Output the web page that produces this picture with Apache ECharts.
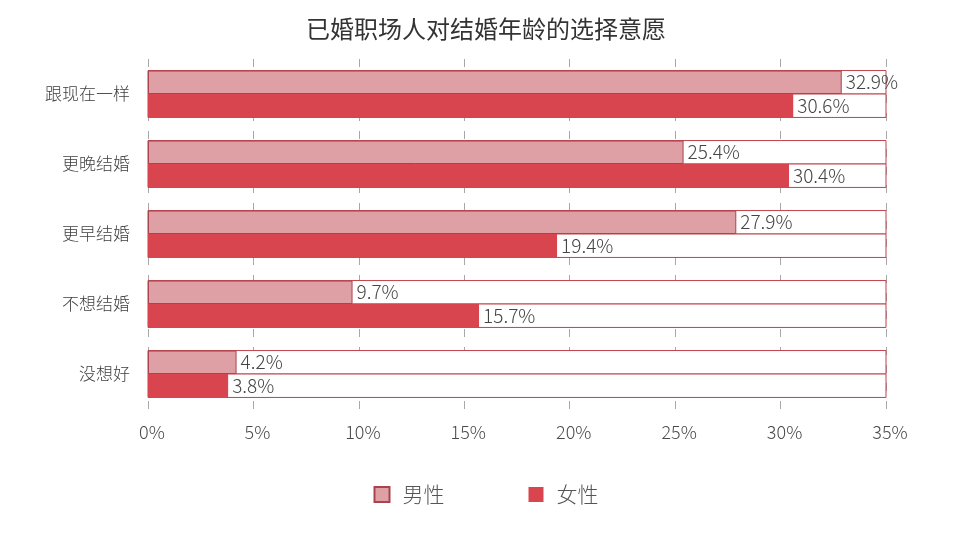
<!DOCTYPE html>
<html>
<head>
<meta charset="utf-8">
<script src="https://cdn.jsdelivr.net/npm/echarts@6/dist/echarts.min.js"></script>
<style>
    html, body {margin: 0; padding: 0; background: #fff;}
    #main {width: 972px; height: 539px;}
</style>
</head>
<body>
<div id="main"></div>
<script>
    // 类别与数据
    var categories = ['跟现在一样', '更晚结婚', '更早结婚', '不想结婚', '没想好'];
    var maleData = [32.9, 25.4, 27.9, 9.7, 4.2];
    var femaleData = [30.6, 30.4, 19.4, 15.7, 3.8];
    var xTicks = [0, 5, 10, 15, 20, 25, 30, 35];

    var font = '"Noto Sans CJK SC", "Noto Sans", sans-serif';

    var myChart = echarts.init(document.getElementById('main'));
    var option = {
        backgroundColor: '#fff',
        textStyle: {fontFamily: font},
        title: {
            text: '已婚职场人对结婚年龄的选择意愿',
            left: 'center',
            top: 12,
            textStyle: {fontSize: 24, fontWeight: 'normal', color: '#333', fontFamily: font}
        },
        legend: {
            data: ['男性', '女性'],
            top: 479,
            left: 'center',
            icon: 'rect',
            itemWidth: 15,
            itemHeight: 15,
            itemGap: 84,
            textStyle: {fontSize: 21, color: '#555', fontWeight: 300, fontFamily: font, padding: [0, 0, 0, 8]}
        },
        grid: {
            left: 148,
            right: 86,
            top: 59,
            height: 350
        },
        xAxis: {
            type: 'value',
            min: xTicks[0],
            max: xTicks[xTicks.length - 1],
            interval: 5,
            axisLine: {show: false},
            axisTick: {show: false},
            axisLabel: {
                formatter: '{value}%',
                fontSize: 18,
                color: '#4a4a4a',
                margin: 14,
                fontWeight: 300,
                padding: [0, 0, 0, 8]
            },
            splitLine: {
                show: true,
                lineStyle: {color: '#a8a8a8', type: [8, 10], width: 1}
            }
        },
        yAxis: {
            type: 'category',
            data: categories,
            inverse: true,
            axisLine: {show: false},
            axisTick: {show: false},
            axisLabel: {fontSize: 17, color: '#404040', margin: 18, fontWeight: 300}
        },
        series: [
            {
                name: '男性',
                type: 'bar',
                data: maleData,
                barGap: '0%',
                barCategoryGap: '33%',
                itemStyle: {color: '#dea0a5', borderColor: '#a9434e', borderWidth: 1},
                showBackground: true,
                backgroundStyle: {color: '#fff', borderColor: '#c0424c', borderWidth: 1},
                label: {
                    show: true,
                    position: 'right',
                    distance: 4,
                    formatter: '{c}%',
                    fontSize: 19,
                    color: '#444',
                    fontWeight: 300
                }
            },
            {
                name: '女性',
                type: 'bar',
                data: femaleData,
                barGap: '0%',
                barCategoryGap: '33%',
                itemStyle: {color: '#d9454e'},
                showBackground: true,
                backgroundStyle: {color: '#fff', borderColor: '#c0424c', borderWidth: 1},
                label: {
                    show: true,
                    position: 'right',
                    distance: 4,
                    formatter: '{c}%',
                    fontSize: 19,
                    color: '#444',
                    fontWeight: 300
                }
            }
        ]
    };
    myChart.setOption(option);
</script>
</body>
</html>
